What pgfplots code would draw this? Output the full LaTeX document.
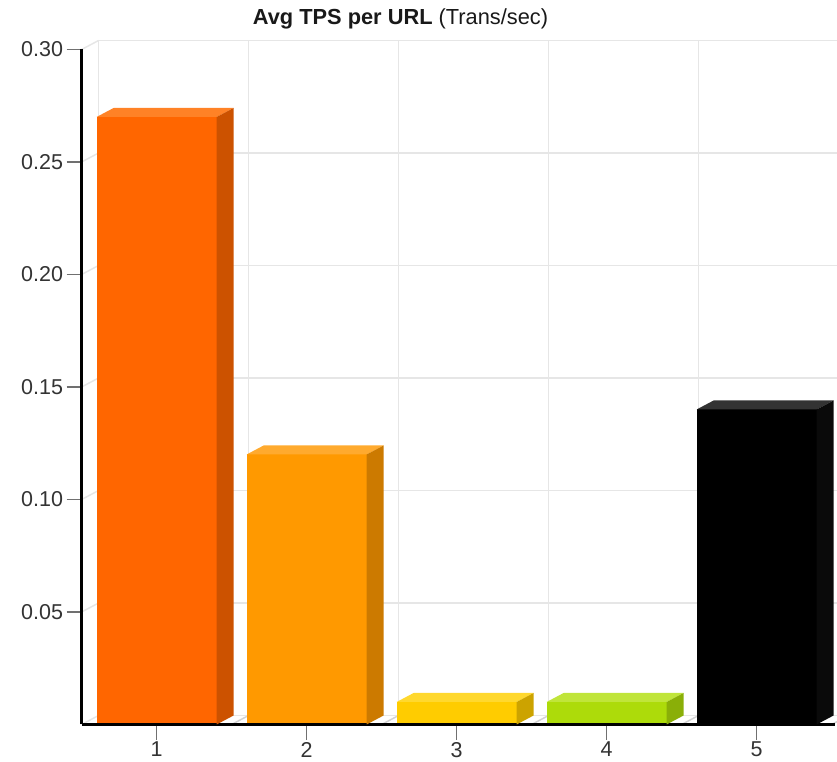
\documentclass[border=0pt]{standalone}
\usepackage{pgfplots}
\pgfplotsset{compat=1.18}
\usepackage{fontspec}
\setmainfont{Liberation Sans}
\definecolor{gridc}{HTML}{E6E6E6}
\definecolor{tickc}{HTML}{707070}
\definecolor{labc}{HTML}{333333}
\definecolor{cAf}{HTML}{FF6600}\definecolor{cAt}{HTML}{FF8226}\definecolor{cAs}{HTML}{CC5200}
\definecolor{cBf}{HTML}{FF9900}\definecolor{cBt}{HTML}{FFAA2E}\definecolor{cBs}{HTML}{CC7A00}
\definecolor{cCf}{HTML}{FFCC00}\definecolor{cCt}{HTML}{FFD82E}\definecolor{cCs}{HTML}{CCA300}
\definecolor{cDf}{HTML}{ADDB0A}\definecolor{cDt}{HTML}{C0E53A}\definecolor{cDs}{HTML}{8AAF08}
\definecolor{cEf}{HTML}{000000}\definecolor{cEt}{HTML}{333333}\definecolor{cEs}{HTML}{0A0A0A}
\pgfplotsset{
  front/.style={ybar, bar width=120pt, bar shift=0pt, draw=none, fill=#1},
  box3d/.style 2 args={
    only marks, mark=o, mark size=0pt, mark options={draw opacity=0},
    point meta=y, point meta min=0, point meta max=0.30,
    scatter,
    scatter/@pre marker code/.code={%
      \pgfmathsetmacro\hh{-\pgfplotspointmetatransformed*0.675}%
      \pgfmathsetmacro\hb{\hh+9}%
      \fill[#1] (-60pt,0pt) -- (60pt,0pt) -- (77pt,9pt) -- (-43pt,9pt) -- cycle;
      \fill[#2] (60pt,0pt) -- (77pt,9pt) -- (77pt,\hb pt) -- (60pt,\hh pt) -- cycle;
    },
    scatter/@post marker code/.code={},
  },
}
\begin{document}
\begin{tikzpicture}
\useasboundingbox (0pt,0pt) rectangle (837pt,762pt);
% back wall
\begin{axis}[
  at={(98.6pt,46.5pt)}, anchor=south west, scale only axis,
  width=738.4pt, height=675pt,
  xmin=0.5, xmax=5.4227, ymin=0, ymax=0.30,
  axis line style={draw=none},
  xtick={0.5,1.5,2.5,3.5,4.5}, ytick={0,0.05,0.10,0.15,0.20,0.25,0.30},
  xticklabels={}, yticklabels={}, major tick length=0pt,
  xmajorgrids, ymajorgrids,
  grid style={gridc, line width=1.5pt},
]
\end{axis}
% front
\begin{axis}[
  at={(81.6pt,37.5pt)}, anchor=south west, scale only axis,
  width=750pt, height=675pt,
  xmin=0.5, xmax=5.5, ymin=0, ymax=0.30,
  clip=false, axis on top,
  axis x line*=bottom, axis y line*=left,
  axis line style={line width=3pt, black, -},
  x axis line style={shorten >=-3pt},
  xtick={1,2,3,4,5},
  ytick={0.05,0.10,0.15,0.20,0.25,0.30},
  tick align=outside, major tick length=15pt,
  tick style={line width=1.5pt, tickc},
  /pgf/number format/assume math mode=true,
  yticklabel style={/pgf/number format/.cd, fixed, fixed zerofill, precision=2},
  ticklabel style={font=\fontsize{21.5}{25}\selectfont, text=labc},
  xticklabel style={yshift=1pt},
]
% left wall and floor lines
\pgfplotsinvokeforeach{0,0.05,0.10,0.15,0.20,0.25,0.30}{
  \draw[gridc, line width=1.5pt] (axis cs:0.5,#1) -- ++(17pt,9pt);
}
\pgfplotsinvokeforeach{1.5,2.5,3.5,4.5,5.5}{
  \draw[gridc!80!gray, line width=1.5pt] (axis cs:#1,0) -- ++(17pt,9pt);
}
\addplot[front=cAf] coordinates {(1,0.27)};
\addplot[box3d={cAt}{cAs}] coordinates {(1,0.27)};
\addplot[front=cBf] coordinates {(2,0.12)};
\addplot[box3d={cBt}{cBs}] coordinates {(2,0.12)};
\addplot[front=cCf] coordinates {(3,0.01)};
\addplot[box3d={cCt}{cCs}] coordinates {(3,0.01)};
\addplot[front=cDf] coordinates {(4,0.01)};
\addplot[box3d={cDt}{cDs}] coordinates {(4,0.01)};
\addplot[front=cEf] coordinates {(5,0.14)};
\addplot[box3d={cEt}{cEs}] coordinates {(5,0.14)};
\end{axis}
\node[font=\fontsize{21.8}{26}\selectfont, anchor=base, text=black!90] at (400.5pt,737.5pt) {\textbf{Avg TPS per URL} (Trans/sec)};
\end{tikzpicture}
\end{document}
